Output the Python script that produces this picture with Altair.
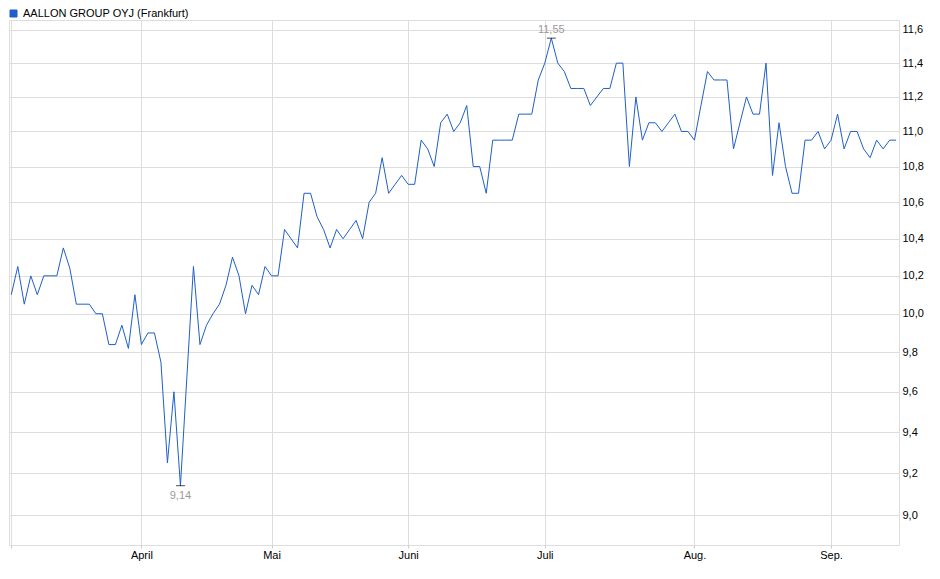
import altair as alt
import pandas as pd

series_name = "AALLON GROUP OYJ (Frankfurt)"

prices = [
    10.10, 10.25, 10.05, 10.20, 10.10, 10.20, 10.20, 10.20, 10.35, 10.24,
    10.05, 10.05, 10.05, 10.00, 10.00, 9.84, 9.84, 9.94, 9.82, 10.10,
    9.84, 9.90, 9.90, 9.75, 9.25, 9.60, 9.14, 9.68, 10.25, 9.84,
    9.94, 10.00, 10.05, 10.15, 10.30, 10.20, 10.00, 10.15, 10.10, 10.25,
    10.20, 10.20, 10.45, 10.40, 10.35, 10.65, 10.65, 10.52, 10.45, 10.35,
    10.45, 10.40, 10.45, 10.50, 10.40, 10.60, 10.65, 10.85, 10.65, 10.70,
    10.75, 10.70, 10.70, 10.95, 10.90, 10.80, 11.05, 11.10, 11.00, 11.05,
    11.15, 10.80, 10.80, 10.65, 10.95, 10.95, 10.95, 10.95, 11.10, 11.10,
    11.10, 11.30, 11.40, 11.55, 11.40, 11.35, 11.25, 11.25, 11.25, 11.15,
    11.20, 11.25, 11.25, 11.40, 11.40, 10.80, 11.20, 10.95, 11.05, 11.05,
    11.00, 11.05, 11.10, 11.00, 11.00, 10.95, 11.15, 11.35, 11.30, 11.30,
    11.30, 10.90, 11.05, 11.20, 11.10, 11.10, 11.40, 10.75, 11.05, 10.80,
    10.65, 10.65, 10.95, 10.95, 11.00, 10.90, 10.95, 11.10, 10.90, 11.00,
    11.00, 10.90, 10.85, 10.95, 10.90, 10.95, 10.95,
]

month_ticks = [0, 20, 40, 61, 82, 105, 126]
month_labels = ["", "April", "Mai", "Juni", "Juli", "Aug.", "Sep."]
y_ticks = [9.0, 9.2, 9.4, 9.6, 9.8, 10.0, 10.2, 10.4, 10.6, 10.8, 11.0, 11.2, 11.4, 11.6]

LINE_COLOR = "#1f5fc8"
GRID = "#dddddd"
FONT = "Liberation Sans"

df = pd.DataFrame({"i": list(range(len(prices))), "price": prices, "series": series_name})

imax = prices.index(max(prices))
imin = prices.index(min(prices))
ext = pd.DataFrame({
    "i": [imax, imin],
    "price": [prices[imax], prices[imin]],
    "label": [f"{prices[imax]:.2f}".replace(".", ","), f"{prices[imin]:.2f}".replace(".", ",")],
    "pos": ["max", "min"],
})

label_expr_x = (
    "[" + ",".join(f"'{m}'" for m in month_labels) + "][indexof(["
    + ",".join(str(t) for t in month_ticks) + "], datum.value)]"
)

x_enc = alt.X(
    "i:Q",
    scale=alt.Scale(domain=[-0.35, 136.44], nice=False, zero=False),
    axis=alt.Axis(
        values=month_ticks, labelExpr=label_expr_x, title=None, grid=True,
        gridColor=GRID, tickColor="#cccccc", tickSize=3, domain=False,
        labelFont=FONT, labelFontSize=11, labelColor="#000000", labelPadding=1,
        labelOverlap=False,
    ),
)
y_enc = alt.Y(
    "price:Q",
    scale=alt.Scale(type="log", domain=[8.861, 11.66], nice=False, zero=False),
    axis=alt.Axis(
        orient="right", values=y_ticks,
        labelExpr="replace(format(datum.value, '.1f'), '.', ',')",
        title=None, grid=True, gridColor=GRID, ticks=False, domain=False,
        labelFont=FONT, labelFontSize=11, labelColor="#000000", labelPadding=3,
        labelOverlap=False,
    ),
)

line = alt.Chart(df).mark_line(strokeWidth=1, interpolate="linear").encode(
    x=x_enc,
    y=y_enc,
    color=alt.Color(
        "series:N",
        scale=alt.Scale(range=[LINE_COLOR]),
        legend=alt.Legend(
            orient="none", legendX=-1, legendY=-12, title=None,
            symbolType="square", symbolSize=49, symbolFillColor=LINE_COLOR,
            symbolStrokeColor="#17408a", symbolStrokeWidth=1,
            labelFont=FONT, labelFontSize=11, labelColor="#000000",
            labelOffset=4, padding=0, labelLimit=400,
        ),
    ),
)

ticks = alt.Chart(ext).mark_tick(orient="horizontal", color="#000000", size=9, thickness=1).encode(
    x="i:Q", y="price:Q"
)

txt_max = alt.Chart(ext).transform_filter("datum.pos == 'max'").mark_text(
    color="#9a9a9a", fontSize=11, font=FONT, baseline="bottom", dy=-3
).encode(x="i:Q", y="price:Q", text="label:N")

txt_min = alt.Chart(ext).transform_filter("datum.pos == 'min'").mark_text(
    color="#9a9a9a", fontSize=11, font=FONT, baseline="top", dy=4
).encode(x="i:Q", y="price:Q", text="label:N")

chart = alt.layer(line, ticks, txt_max, txt_min).properties(
    width=890, height=525,
    autosize=alt.AutoSizeParams(type="none"),
    padding={"left": 1, "top": 12, "right": 33, "bottom": 20},
).configure_view(stroke="#d5d5d5", strokeWidth=1).configure(background="white")

chart.save("out.html", embed_options={"renderer": "svg", "actions": False})
